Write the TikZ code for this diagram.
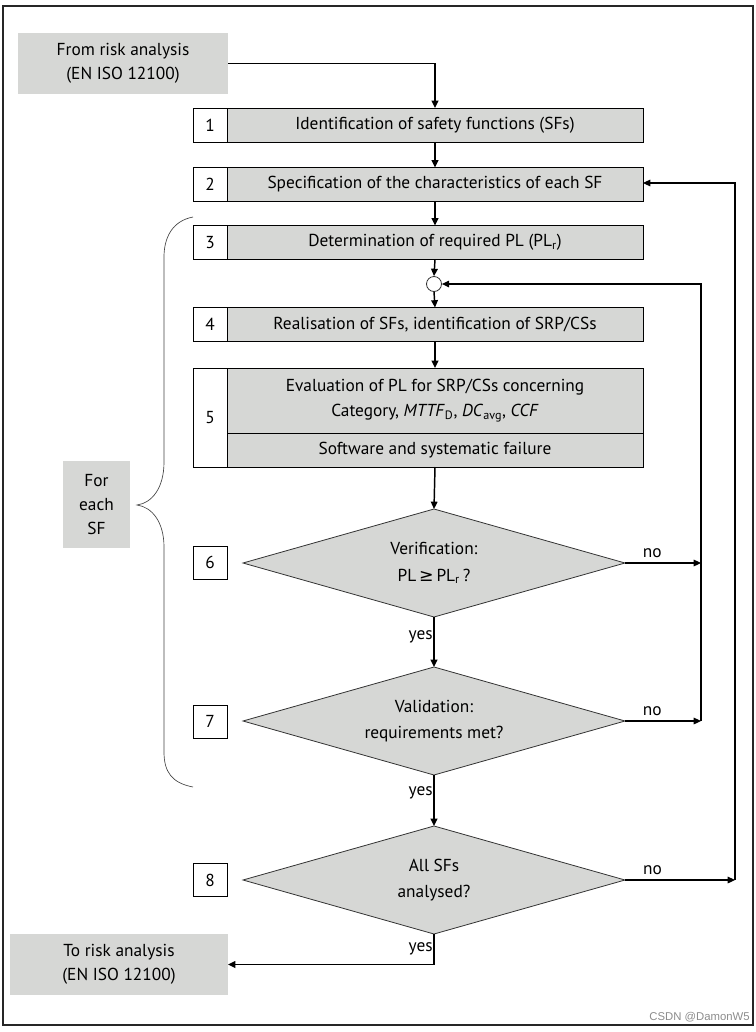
\documentclass[tikz,border=0pt]{standalone}
\usepackage{fontspec}
\setmainfont{PT Sans}
\newfontfamily\symfont{DejaVu Sans}
\newfontfamily\wmfont{Liberation Sans}
\usetikzlibrary{shapes.geometric,arrows.meta}
\definecolor{boxgray}{HTML}{D6D7D5}
\definecolor{bracegray}{HTML}{444444}
\newcommand\ff{\fontsize{13}{18}\selectfont}
\tikzset{
  base/.style={inner sep=0pt, outer sep=0pt, font=\ff, align=center},
  mainbox/.style={base, draw=black, fill=boxgray, line width=0.75pt, minimum width=416*0.75pt, minimum height=34*0.75pt},
  numbox/.style={base, draw=black, fill=white, line width=0.75pt, minimum width=34*0.75pt, minimum height=34*0.75pt},
  termbox/.style={base, fill=boxgray},
  decision/.style={base, diamond, shape aspect=3.54, draw=black!80, fill=boxgray, line width=0.6pt, minimum width=382*0.75pt, minimum height=108*0.75pt},
  flow/.style={line width=1.1pt, -{Triangle[length=5.5pt,width=5pt]}},
  loop/.style={line width=0.8pt, -{Triangle[length=5.5pt,width=5pt]}},
  lab/.style={base, inner sep=1pt}
}
\begin{document}
\begin{tikzpicture}[x=0.75pt,y=-0.75pt]
\useasboundingbox (0,0) rectangle (756,1032);
\draw[line width=1.6pt, black!85] (3,6) rectangle (753,1025);

% terminal boxes
\node[termbox, minimum width=210*0.75pt, minimum height=61*0.75pt] (from) at (123,63.5) {From risk analysis\\(EN ISO 12100)};
\node[termbox, minimum width=218*0.75pt, minimum height=61*0.75pt] (to) at (119,964.5) {To risk analysis\\(EN ISO 12100)};

% steps
\node[mainbox] (b1) at (435,125) {Identification of safety functions (SFs)};
\node[numbox] (n1) at (210,125) {1};
\node[mainbox] (b2) at (435,184.5) {Specification of the characteristics of each SF};
\node[numbox] (n2) at (210,184.5) {2};
\node[mainbox] (b3) at (435,242.5) {Determination of required PL (PL\textsubscript{r})};
\node[numbox] (n3) at (210,242.5) {3};
\node[draw=black!80, fill=white, circle, minimum size=15*0.75pt, inner sep=0pt, line width=0.6pt] (circ) at (434,284) {};
\node[mainbox] (b4) at (435,324.5) {Realisation of SFs, identification of SRP/CSs};
\node[numbox] (n4) at (210,324.5) {4};
\node[mainbox, minimum height=65*0.75pt] (b5) at (435,400.5) {Evaluation of PL for SRP/CSs concerning\\[1pt]Category, \textit{MTTF}\textsubscript{D}, \textit{DC}\textsubscript{avg}, \textit{CCF}};
\node[mainbox] (b5b) at (435,450) {Software and systematic failure};
\node[numbox, minimum height=99*0.75pt] (n5) at (210,417.5) {5};

% decisions
\node[decision] (d6) at (434,563) {Verification:\\[2pt]PL\,{\symfont ≥}\,PL\textsubscript{r}\,?};
\node[numbox, minimum height=33*0.75pt] (n6) at (210,562.5) {6};
\node[decision] (d7) at (434,721) {Validation:\\[2pt]requirements met?};
\node[numbox, minimum height=33*0.75pt] (n7) at (210,721.5) {7};
\node[decision] (d8) at (434,880) {All SFs\\[2pt]analysed?};
\node[numbox, minimum height=33*0.75pt] (n8) at (210,880) {8};

% for each SF
\node[termbox, minimum width=67*0.75pt, minimum height=87*0.75pt] (each) at (96.5,504.5) {For\\each\\SF};
\draw[bracegray, line width=0.5pt] (193,217) .. controls (172,221) and (164,238) .. (164,257)
  -- (164,462) .. controls (164,488) and (152,503) .. (137,505)
  .. controls (152,507) and (164,522) .. (164,547)
  -- (164,752) .. controls (164,772) and (172,783) .. (193,787);

% main flow
\draw[flow] (from.east) -| (b1.north);
\draw[flow] (b1.south) -- (b2.north);
\draw[flow] (b2.south) -- (b3.north);
\draw[flow] (b3.south) -- (circ.north);
\draw[flow] (circ.south) -- (b4.north);
\draw[flow] (b4.south) -- (b5.north);
\draw[flow] (b5b.south) -- (d6.north);
\draw[flow] (d6.south) -- node[lab, left, pos=0.4] {yes} (d7.north);
\draw[flow] (d7.south) -- node[lab, left, pos=0.35] {yes} (d8.north);
\draw[flow] (d8.south) |- node[lab, left, pos=0.25] {yes} (to.east);

% loops
\coordinate (r6) at (701,563);
\coordinate (r7) at (701,721);
\coordinate (rc) at (701,284);
\coordinate (r8) at (735,880);
\coordinate (r2) at (735,183);
\draw[loop] (d6.east) -- node[lab, above=3pt, pos=0.36] {no} (r6);
\draw[loop] (d7.east) -- node[lab, above=3pt, pos=0.36] {no} (r7);
\draw[loop] (r7) -- (rc) -- (circ.east);
\draw[loop] (d8.east) -- node[lab, above=3pt, pos=0.25] {no} (r8);
\draw[loop] (r8) -- (r2) -- (b2.east |- r2);

% watermark
\node[anchor=east, inner sep=0pt, font=\wmfont\fontsize{8.5}{10}\selectfont, text=black!45] (wm) at (750,1017) {CSDN @DamonW5};
\end{tikzpicture}
\end{document}
